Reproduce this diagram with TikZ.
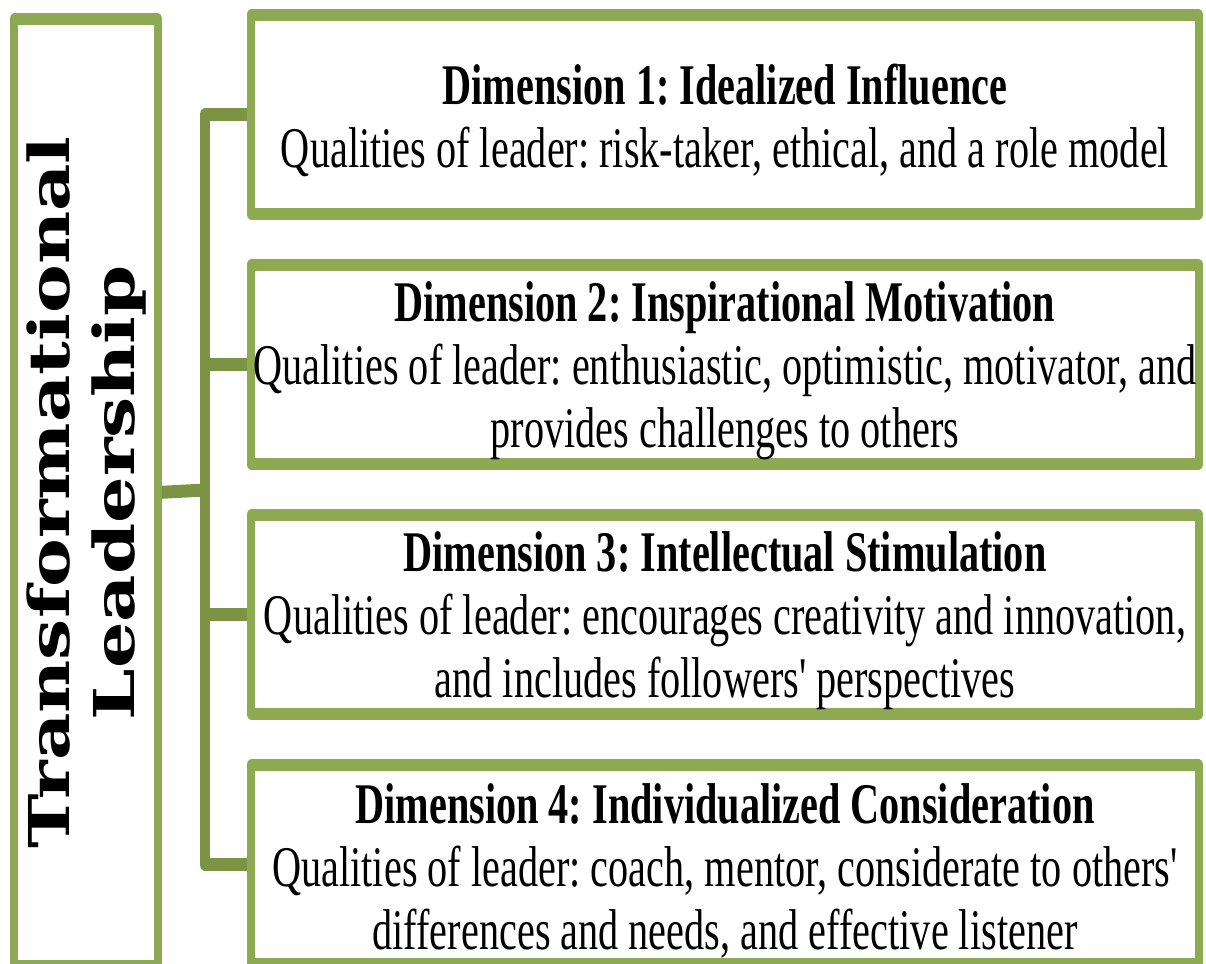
\documentclass[tikz,border=0pt]{standalone}
\usepackage{fontspec}
\setmainfont{Liberation Serif}
\newfontfamily\sidefont{DejaVu Serif}[FakeStretch=0.91]
\usepackage{xcolor}
\usepackage{tikz}
\usetikzlibrary{positioning}
\definecolor{boxgreen}{RGB}{141,169,81}
\definecolor{linkgreen}{RGB}{124,147,68}
\frenchspacing
\newcommand\dimtitle[1]{\rule{0pt}{52pt}\textbf{#1}}

\begin{document}
\begin{tikzpicture}[x=1pt, y=1pt,
node distance = 51pt,
dimbox/.style  = {draw=boxgreen, line width=12pt, line join=round,
                  minimum width=1353.7pt, minimum height=199pt,
                  inner sep=0pt, outer sep=0pt, align=center,
                  font=\fontsize{57.5}{63}\selectfont},
sidebox/.style = {draw=boxgreen, line width=12pt, line join=round, rotate=90,
                  minimum width=947pt, minimum height=205pt,
                  inner sep=0pt, outer sep=0pt, align=center,
                  font=\sidefont\bfseries\fontsize{80.4}{93}\selectfont},
link/.style    = {draw=linkgreen, line width=13pt, line join=round,
                  shorten <=6pt, shorten >=6pt}
                        ]
\useasboundingbox (0,0) rectangle (1206,-963);
\clip (0,0) rectangle (1206,-963);
\begin{scope}[transform canvas={xscale=0.7}]
\node (lead) [sidebox] at (122.9,-492.5) {Transformational\\Leadership};
%
\node (d1) [dimbox] at (1035.7,-114.5)
    {\dimtitle{Dimension 1: Idealized Influence}\\
     Qualities of leader: risk-taker, ethical, and a role model};
\node (d2) [dimbox, below=of d1]
    {\dimtitle{Dimension 2: Inspirational Motivation}\\
     Qualities of leader: enthusiastic, optimistic, motivator, and\\
     provides challenges to others};
\node (d3) [dimbox, below=of d2]
    {\dimtitle{Dimension 3: Intellectual Stimulation}\\
     Qualities of leader: encourages creativity and innovation,\\
     and includes followers\textquotesingle{} perspectives};
\node (d4) [dimbox, below=of d3]
    {\dimtitle{Dimension 4: Individualized Consideration}\\
     Qualities of leader: coach, mentor, considerate to others\textquotesingle\\
     differences and needs, and effective listener};
%
\coordinate (hub) at (292.9,-490);
\draw[link]  (lead.south) -- (hub);
\draw[link]  (d1.west) -| (hub |- d4.west) -- (d4.west);
\foreach \i in {2,3}
    \draw[link] (hub |- d\i.west) -- (d\i.west);
\end{scope}
\end{tikzpicture}
\end{document}
